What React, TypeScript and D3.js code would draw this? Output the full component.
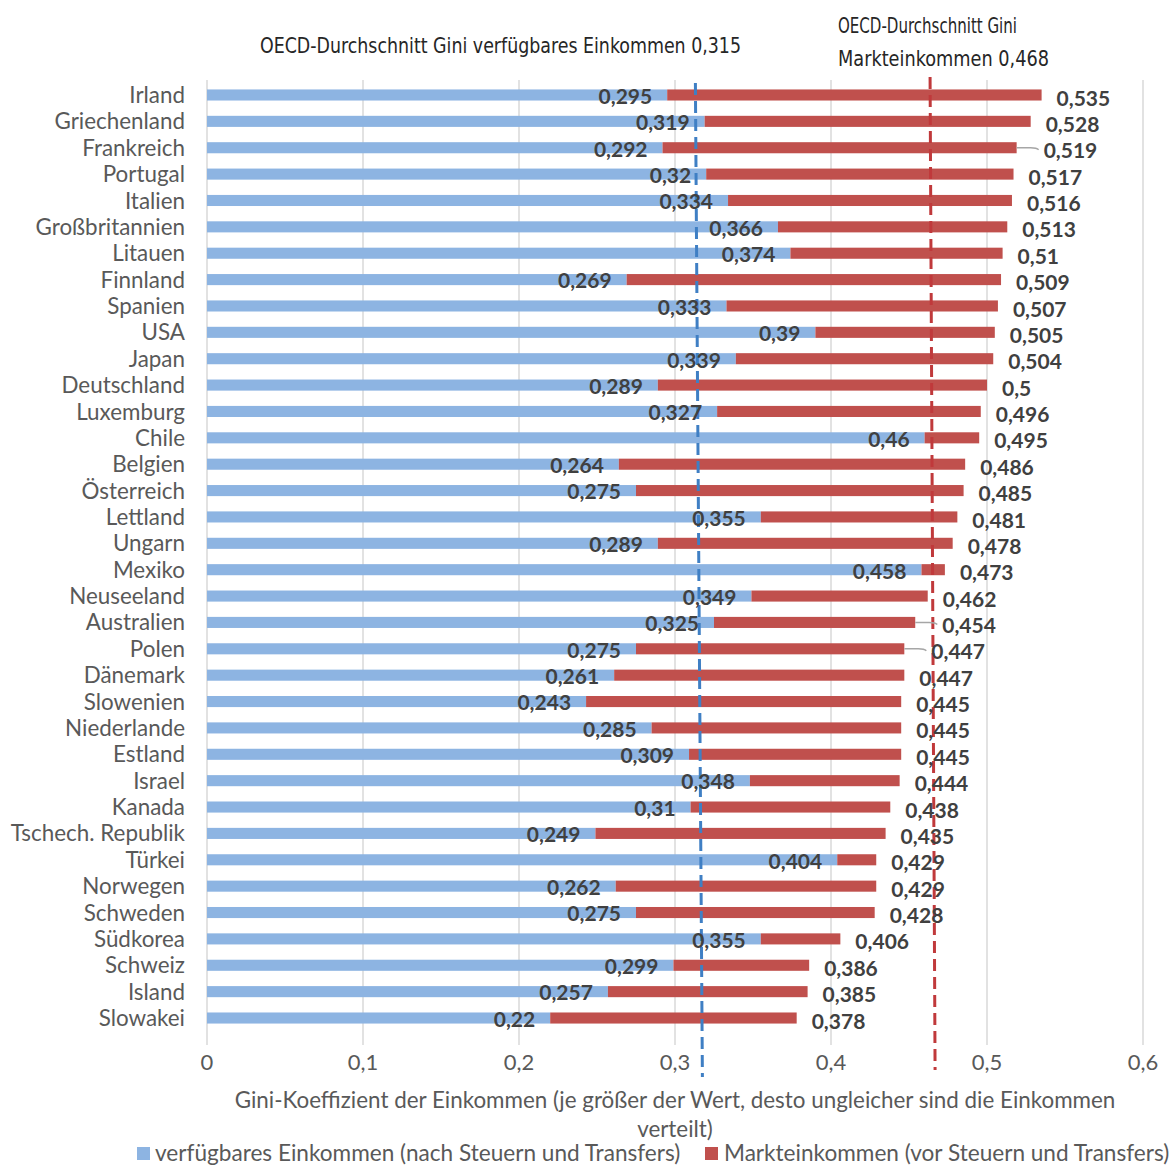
import React, { useEffect } from "react";
import * as d3 from "d3";

const countries = [
  "Irland", "Griechenland", "Frankreich", "Portugal", "Italien", "Großbritannien",
  "Litauen", "Finnland", "Spanien", "USA", "Japan", "Deutschland", "Luxemburg",
  "Chile", "Belgien", "Österreich", "Lettland", "Ungarn", "Mexiko", "Neuseeland",
  "Australien", "Polen", "Dänemark", "Slowenien", "Niederlande", "Estland", "Israel",
  "Kanada", "Tschech. Republik", "Türkei", "Norwegen", "Schweden", "Südkorea",
  "Schweiz", "Island", "Slowakei",
];
const disposable = [
  0.295, 0.319, 0.292, 0.32, 0.334, 0.366, 0.374, 0.269, 0.333, 0.39, 0.339, 0.289,
  0.327, 0.46, 0.264, 0.275, 0.355, 0.289, 0.458, 0.349, 0.325, 0.275, 0.261, 0.243,
  0.285, 0.309, 0.348, 0.31, 0.249, 0.404, 0.262, 0.275, 0.355, 0.299, 0.257, 0.22,
];
const market = [
  0.535, 0.528, 0.519, 0.517, 0.516, 0.513, 0.51, 0.509, 0.507, 0.505, 0.504, 0.5,
  0.496, 0.495, 0.486, 0.485, 0.481, 0.478, 0.473, 0.462, 0.454, 0.447, 0.447, 0.445,
  0.445, 0.445, 0.444, 0.438, 0.435, 0.429, 0.429, 0.428, 0.406, 0.386, 0.385, 0.378,
];
const xTicks = [0, 0.1, 0.2, 0.3, 0.4, 0.5, 0.6];
const leaderRows = ["Frankreich", "Australien", "Polen"];
const avgDisposable = 0.315;
const avgMarket = 0.468;
const seriesNames = [
  "verfügbares Einkommen (nach Steuern und Transfers)",
  "Markteinkommen (vor Steuern und Transfers)",
];

const BLUE = "#8DB4E2";
const RED = "#C0504D";
const FONT = "Lato, 'Open Sans', sans-serif";
const NARROW = "'Liberation Sans Narrow', 'DejaVu Sans Condensed', 'Noto Sans', sans-serif";

const fmt = (v: number) => String(v).replace(".", ",");

export default function App() {
  useEffect(() => {
    document.body.style.margin = "0";
  }, []);

  const x = d3.scaleLinear().domain([0, 0.6]).range([207, 1143]);
  const y = d3
    .scaleBand<string>()
    .domain(countries)
    .range([81.8, 1031.2])
    .paddingInner(0.58)
    .paddingOuter(0.29);
  const barH = y.bandwidth();
  const cy = (c: string) => (y(c) as number) + barH / 2;

  const gridTop = 80;
  const gridBottom = 1045;

  return (
    <svg width={1176} height={1165} style={{ display: "block", background: "#fff" }}>
      {/* gridlines */}
      {xTicks.map((t) => (
        <line key={t} x1={x(t)} x2={x(t)} y1={gridTop} y2={gridBottom} stroke="#d9d9d9" strokeWidth={1.5} />
      ))}

      {/* bars */}
      {countries.map((c, i) => (
        <g key={c}>
          <rect x={x(0)} y={y(c)} width={x(disposable[i]) - x(0)} height={barH} fill={BLUE} />
          <rect x={x(disposable[i])} y={y(c)} width={x(market[i]) - x(disposable[i])} height={barH} fill={RED} />
        </g>
      ))}

      {/* average lines */}
      <line x1={x(avgDisposable) - 3} y1={83} x2={x(avgDisposable) + 4} y2={1077}
        stroke="#3F7FC4" strokeWidth={3} strokeDasharray="12,6" />
      <line x1={x(avgMarket) - 7} y1={77} x2={x(avgMarket) - 2} y2={1070}
        stroke="#C0393B" strokeWidth={3} strokeDasharray="12,6" />

      {/* category labels */}
      {countries.map((c) => (
        <text key={c} x={185} y={cy(c)} dy="0.36em" textAnchor="end" fontFamily={FONT} fontSize={22.4} fill="#595959">
          {c}
        </text>
      ))}

      {/* value labels */}
      {countries.map((c, i) => {
        const lead = leaderRows.includes(c);
        const mx = x(market[i]);
        return (
          <g key={c}>
            <text x={x(disposable[i]) - 15} y={cy(c)} dy="0.42em" textAnchor="end" fontFamily={FONT}
              fontSize={21} fontWeight="bold" fill="#404040">
              {fmt(disposable[i])}
            </text>
            {lead && (
              <path d={`M${mx},${cy(c)} L${mx + 14},${cy(c)} Q${mx + 20},${cy(c)} ${mx + 22},${cy(c) + 2}`}
                fill="none" stroke="#a6a6a6" strokeWidth={1.5} />
            )}
            <text x={mx + (lead ? 27 : 15)} y={cy(c) + 3} dy="0.36em" textAnchor="start" fontFamily={FONT}
              fontSize={21} fontWeight="bold" fill="#404040">
              {fmt(market[i])}
            </text>
          </g>
        );
      })}

      {/* x tick labels */}
      {xTicks.map((t) => (
        <text key={t} x={x(t)} y={1062} dy="0.36em" textAnchor="middle" fontFamily={FONT} fontSize={22} fill="#595959">
          {fmt(t)}
        </text>
      ))}

      {/* axis title */}
      <text x={675} y={1100} dy="0.36em" textAnchor="middle" fontFamily={FONT} fontSize={22.4} fill="#595959">
        Gini-Koeffizient der Einkommen (je größer der Wert, desto ungleicher sind die Einkommen
      </text>
      <text x={675} y={1129} dy="0.36em" textAnchor="middle" fontFamily={FONT} fontSize={22.4} fill="#595959">
        verteilt)
      </text>

      {/* legend */}
      <rect x={137} y={1147} width={13} height={13} fill={BLUE} />
      <text x={155} y={1153} dy="0.36em" fontFamily={FONT} fontSize={22.6} fill="#595959">
        {seriesNames[0]}
      </text>
      <rect x={705} y={1147} width={13} height={13} fill={RED} />
      <text x={724} y={1153} dy="0.36em" fontFamily={FONT} fontSize={22.6} fill="#595959">
        {seriesNames[1]}
      </text>

      {/* annotations */}
      <text x={260} y={45} dy="0.36em" fontFamily={NARROW} fontSize={21} fill="#262626"
        textLength={481} lengthAdjust="spacingAndGlyphs">
        {`OECD-Durchschnitt Gini verfügbares Einkommen ${fmt(avgDisposable)}`}
      </text>
      <text x={838} y={25} dy="0.36em" fontFamily={NARROW} fontSize={21} fill="#262626"
        textLength={179} lengthAdjust="spacingAndGlyphs">
        OECD-Durchschnitt Gini
      </text>
      <text x={838} y={58} dy="0.36em" fontFamily={NARROW} fontSize={21} fill="#262626"
        textLength={211} lengthAdjust="spacingAndGlyphs">
        {`Markteinkommen ${fmt(avgMarket)}`}
      </text>
    </svg>
  );
}
